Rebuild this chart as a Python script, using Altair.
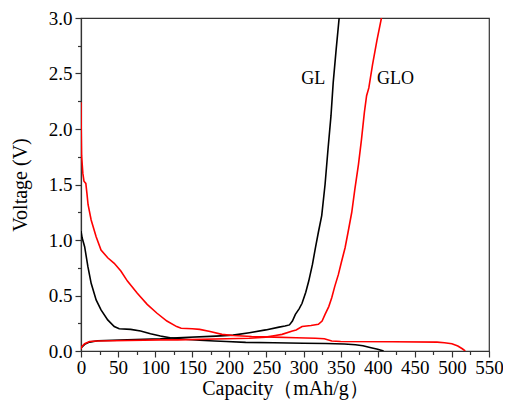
import altair as alt
import pandas as pd

# ---- data ----
gl_dis_x = [0, 1.5, 4.9, 9.3, 13.7, 20.4, 27, 36, 44.8, 51.5, 67, 80.3, 93.7, 107, 120.2, 129, 145, 160, 180, 196, 222, 260, 300, 330, 355, 370, 380, 391, 400, 408]
gl_dis_y = [1.08, 1.02, 0.94, 0.76, 0.61, 0.46, 0.37, 0.28, 0.22, 0.20, 0.195, 0.18, 0.155, 0.135, 0.12, 0.112, 0.104, 0.097, 0.09, 0.085, 0.078, 0.074, 0.07, 0.067, 0.063, 0.057, 0.047, 0.03, 0.015, 0.0]

gl_chg_x = [0, 0.4, 4.9, 11.5, 22.6, 62.6, 107, 130, 182, 205, 227, 249, 267, 275, 281, 285, 289, 294, 298, 303, 307, 312, 316, 320, 324.5, 329, 333, 337, 340, 344, 348]
gl_chg_y = [0.015, 0.03, 0.06, 0.08, 0.093, 0.10, 0.11, 0.12, 0.134, 0.143, 0.165, 0.19, 0.215, 0.225, 0.235, 0.27, 0.33, 0.38, 0.43, 0.53, 0.63, 0.78, 0.93, 1.07, 1.22, 1.50, 1.82, 2.12, 2.42, 2.72, 3.0]

glo_dis_x = [0, 0.3, 0.8, 2.5, 4, 6.5, 8, 9.5, 13.7, 20.4, 27, 36, 44.8, 53.7, 62.6, 75.9, 89.2, 102.5, 115.8, 129, 135, 150, 160, 174, 190, 205, 230, 260, 290, 316, 328, 338, 350, 420, 480, 490, 500, 508, 514, 518]
glo_dis_y = [2.24, 2.0, 1.76, 1.6, 1.53, 1.51, 1.42, 1.32, 1.18, 1.03, 0.91, 0.84, 0.79, 0.72, 0.63, 0.52, 0.42, 0.34, 0.27, 0.22, 0.205, 0.2, 0.195, 0.175, 0.15, 0.14, 0.13, 0.125, 0.12, 0.115, 0.11, 0.09, 0.085, 0.083, 0.08, 0.075, 0.065, 0.045, 0.02, 0.0]

glo_chg_x = [0, 0.4, 4.9, 11.5, 22.6, 63, 107, 130, 196, 227, 249, 262, 271, 285, 290, 298, 310, 320, 325, 329, 334, 338, 342, 347, 351, 356, 360, 365, 369, 374, 378, 382, 385, 388, 393, 399, 405]
glo_chg_y = [0.015, 0.035, 0.065, 0.085, 0.09, 0.095, 0.10, 0.10, 0.11, 0.115, 0.125, 0.14, 0.15, 0.18, 0.19, 0.22, 0.23, 0.24, 0.27, 0.33, 0.40, 0.48, 0.58, 0.69, 0.80, 0.93, 1.07, 1.25, 1.45, 1.68, 1.90, 2.15, 2.30, 2.37, 2.58, 2.80, 3.0]

label_text = ["GL", "GLO"]
label_x = [313, 424]
label_y = [2.45, 2.45]

x_major = list(range(0, 551, 50))
x_minor = list(range(25, 551, 50))
y_major = [0.0, 0.5, 1.0, 1.5, 2.0, 2.5, 3.0]
y_minor = [0.25, 0.75, 1.25, 1.75, 2.25, 2.75]

# ---- build table ----
rows = []
for sample, curve, xs, ys in [
    ("GL", "GL discharge", gl_dis_x, gl_dis_y),
    ("GL", "GL charge", gl_chg_x, gl_chg_y),
    ("GLO", "GLO discharge", glo_dis_x, glo_dis_y),
    ("GLO", "GLO charge", glo_chg_x, glo_chg_y),
]:
    for i, (a, b) in enumerate(zip(xs, ys)):
        rows.append({"sample": sample, "curve": curve, "i": i, "cap": a, "v": b})
df = pd.DataFrame(rows)
labels = pd.DataFrame({"t": label_text, "x": label_x, "y": label_y})

FONT = "Liberation Serif"
AX = "#333333"
xscale = alt.Scale(domain=[0, 550], nice=False, zero=False)
yscale = alt.Scale(domain=[0, 3], nice=False, zero=False)

lines = alt.Chart(df).mark_line(strokeWidth=1.6, clip=True).encode(
    x=alt.X("cap:Q", scale=xscale, axis=alt.Axis(
        values=x_major, title="Capacity（mAh/g）", orient="bottom", grid=False,
        labelFont=FONT, labelFontSize=19, labelColor="black", labelPadding=1,
        labelFlush=False, labelOverlap=False,
        tickSize=6, tickColor=AX, tickWidth=1.2, domainColor=AX, domainWidth=1.2,
        titleFont=FONT, titleFontSize=20, titleFontWeight="normal", titleColor="black",
        titlePadding=1)),
    y=alt.Y("v:Q", scale=yscale, axis=alt.Axis(
        values=y_major, format=".1f", title="Voltage (V)", orient="left", grid=False,
        labelFont=FONT, labelFontSize=19, labelColor="black", labelPadding=3,
        labelFlush=False, labelOverlap=False,
        tickSize=6, tickColor=AX, tickWidth=1.2, domainColor=AX, domainWidth=1.2,
        titleFont=FONT, titleFontSize=20, titleFontWeight="normal", titleColor="black",
        titlePadding=18)),
    color=alt.Color("sample:N", scale=alt.Scale(domain=["GL", "GLO"], range=["#000000", "#ff0000"]), legend=None),
    detail="curve:N",
    order="i:Q",
)

text = alt.Chart(labels).mark_text(font=FONT, fontSize=18, color="black", align="center", baseline="middle").encode(
    x=alt.X("x:Q", scale=xscale, axis=alt.Axis(
        values=x_minor, labels=False, domain=False, grid=False, title=None, orient="bottom",
        tickSize=3.5, tickColor=AX, tickWidth=1.2)),
    y=alt.Y("y:Q", scale=yscale, axis=alt.Axis(
        values=y_minor, labels=False, domain=False, grid=False, title=None, orient="left",
        tickSize=3.5, tickColor=AX, tickWidth=1.2)),
    text="t:N",
)

chart = alt.layer(lines, text).resolve_axis(x="independent", y="independent").properties(
    width=408, height=333,
    autosize=alt.AutoSizeParams(type="none"),
    padding={"left": 73, "top": 10, "right": 14, "bottom": 49},
    background="white",
).configure_view(stroke=AX, strokeWidth=1.2)

chart.save("out.html", embed_options={"renderer": "svg", "actions": False})
